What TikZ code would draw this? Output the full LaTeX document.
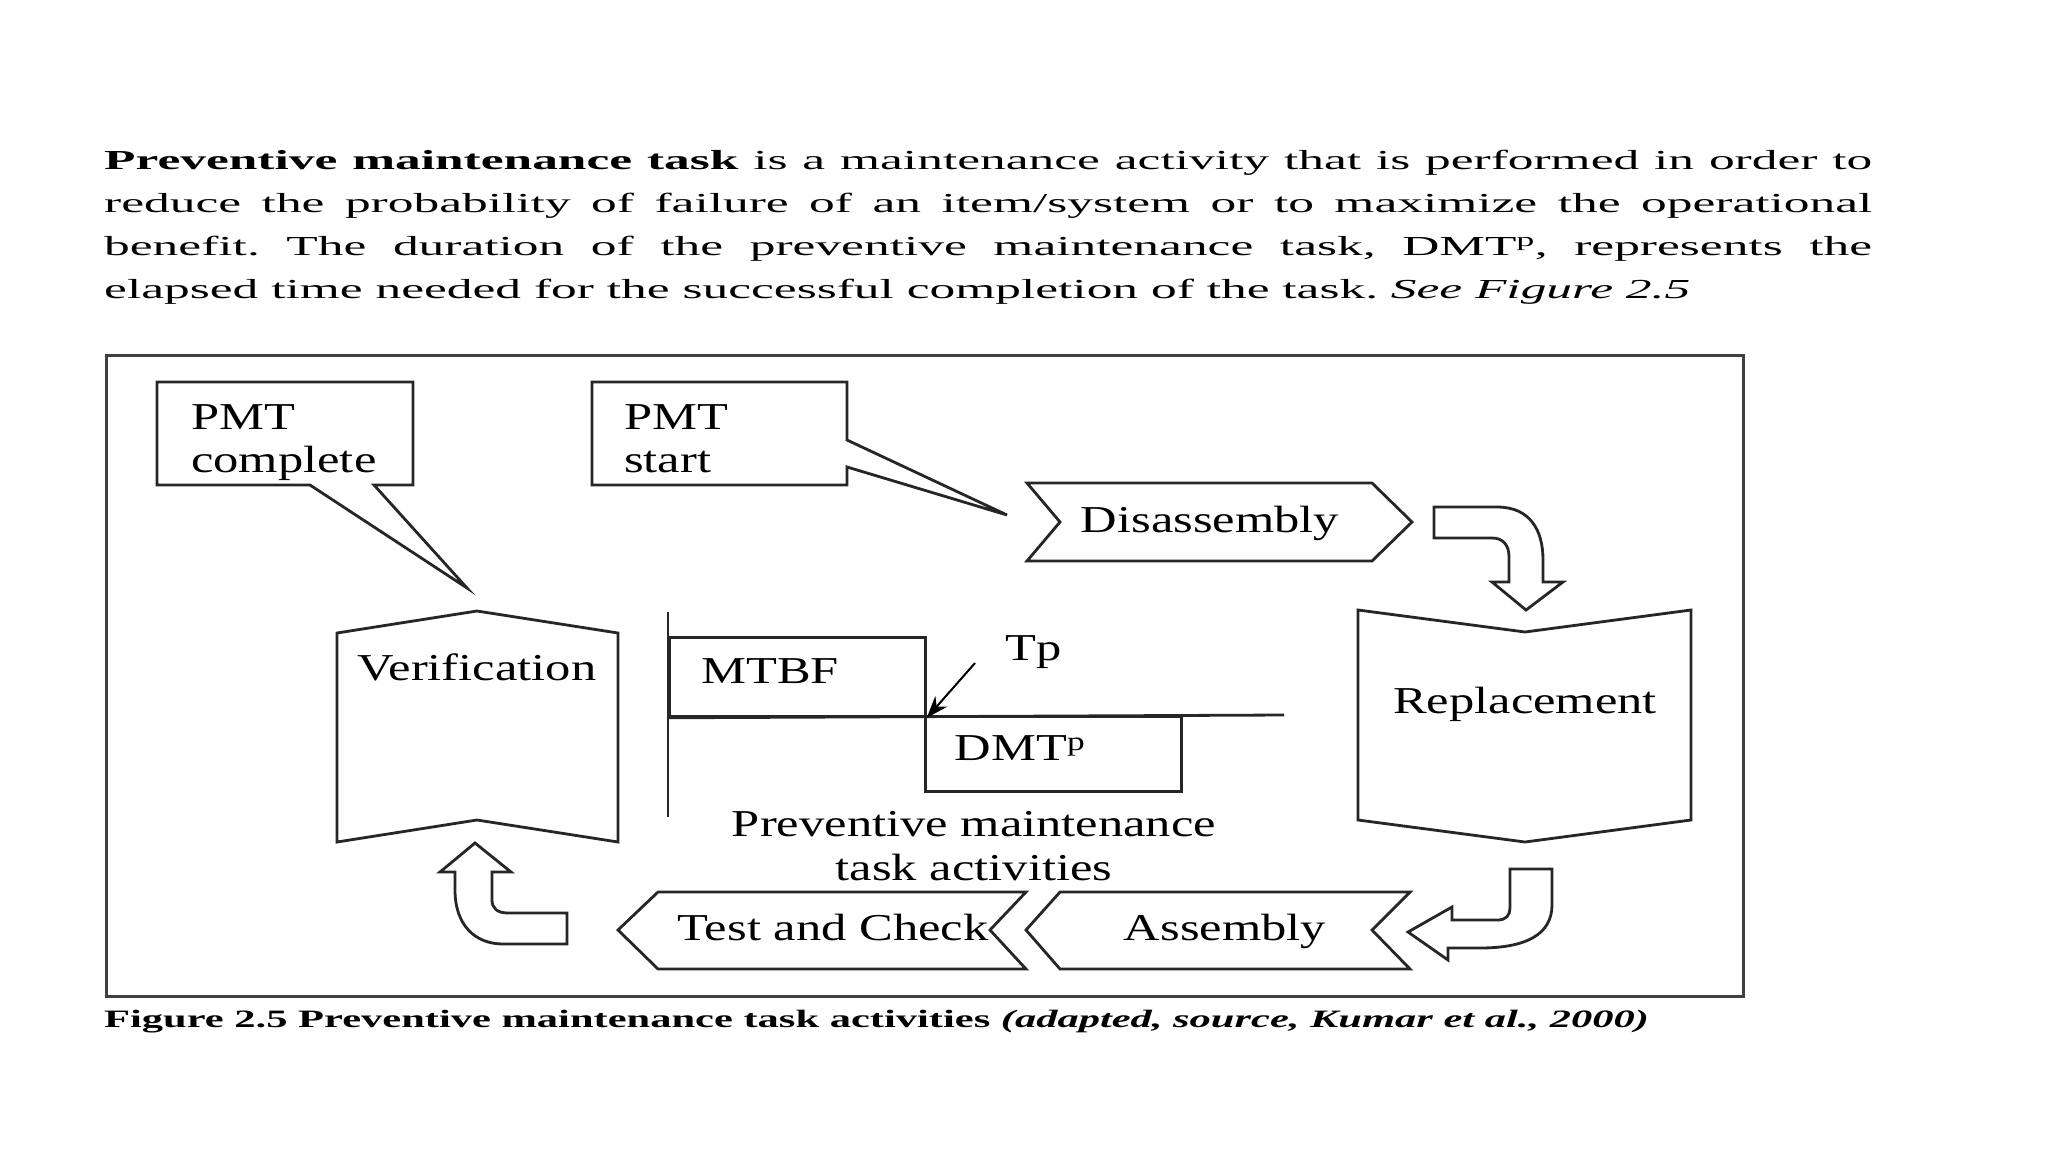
\documentclass[tikz,border=0pt]{standalone}
\usepackage{fontspec}
\setmainfont{Liberation Serif}[FakeStretch=1.33]
\newfontfamily\parafont{Liberation Serif}[FakeStretch=1.87]
\newfontfamily\capfont{Liberation Serif}[FakeStretch=1.70]
\usetikzlibrary{arrows.meta}
\frenchspacing

\tikzset{
  outline/.style={draw=black!85, line width=2.8pt, line join=miter, fill=white},
  figtext/.style={font=\fontsize{38}{43}\selectfont, inner sep=0pt},
  boxnode/.style={draw=black!85, line width=2.8pt, inner sep=0pt, anchor=north west}
}

\begin{document}
\begin{tikzpicture}[x=1pt, y=-1pt]
    \useasboundingbox[fill=white] (0,0) rectangle (2048,1152);
    %\draw[step=100, gray, very thin] (0,0) grid (2048,1152);
    \node[anchor=north west, text width=1768pt, align=justify, inner sep=0pt,
          font=\parafont\fontsize{27.5}{43}\selectfont] (para) at (104,150)
      {\textbf{Preventive maintenance task} is a maintenance activity that is performed in order to\linebreak
       reduce the probability of failure of an item/system or to maximize the operational\linebreak
       benefit. The duration of the preventive maintenance task, DMT\textsuperscript{p}, represents the\linebreak
       elapsed time needed for the successful completion of the task. \textit{See Figure 2.5}};

    \node[draw=black!75, line width=3pt, anchor=north west, inner sep=0pt,
          minimum width=1637pt, minimum height=641pt] (frame) at (105,354) {};

    \begin{scope}[outline]
    % callouts
    \draw (157,382) -- (413,382) -- (413,485) -- (374,485) -- (467,588) -- (310,485) -- (157,485) -- cycle;
    \draw (592,382) -- (847,382) -- (847,440) -- (1007,515) -- (847,467) -- (847,485) -- (592,485) -- cycle;
    % chevrons
    \draw (1027,483) -- (1372,483) -- (1412,522) -- (1372,561) -- (1027,561) -- (1060,522) -- cycle;
    \draw (618,930) -- (658,892) -- (1026,892) -- (990,930) -- (1026,969) -- (658,969) -- cycle;
    \draw (1026,930) -- (1060,892) -- (1410,892) -- (1372,930) -- (1410,969) -- (1060,969) -- cycle;
    % banners
    \draw (337,633) -- (477,611) -- (618,633) -- (618,842) -- (477,820) -- (337,842) -- cycle;
    \draw (1358,610) -- (1525,632) -- (1691,610) -- (1691,820) -- (1525,842) -- (1358,820) -- cycle;
    % curved block arrows
    \draw (1434,507) -- (1497,507) .. controls (1530,507) and (1543,530) .. (1543,560) -- (1543,582)
        -- (1563,582) -- (1526,610) -- (1492,582) -- (1509,582) -- (1509,557)
        .. controls (1509,545) and (1503,538) .. (1492,538) -- (1434,538) -- cycle;
    \draw (1510,869) -- (1552,869) -- (1552,905) .. controls (1552,935) and (1525,948) .. (1480,948)
        -- (1448,948) -- (1448,960) -- (1408,932) -- (1452,907) -- (1452,920) -- (1498,920)
        .. controls (1506,920) and (1510,915) .. (1510,908) -- cycle;
    \draw (567,913) -- (508,913) .. controls (497,913) and (492,908) .. (492,900) -- (492,872)
        -- (511,872) -- (475,843) -- (440,872) -- (455,872) -- (455,890)
        .. controls (455,925) and (475,944) .. (503,944) -- (567,944) -- cycle;
    \end{scope}

    \node[figtext, anchor=base west, align=left] (pmtend) at (191,472) {PMT\\complete};
    \node[figtext, anchor=base west, align=left] (pmtstart) at (624,472) {PMT\\start};
    \node[figtext, anchor=base] (disasm) at (1210,532) {Disassembly};
    \node[figtext, anchor=base] (replace) at (1525,713) {Replacement};
    \node[figtext, anchor=base] (verify) at (477,680) {Verification};
    \node[figtext, anchor=base] (testchk) at (833,940) {Test and Check};
    \node[figtext, anchor=base] (asm) at (1225,940) {Assembly};

    % time line
    \coordinate (axtop) at (668,612);
    \coordinate (axbot) at (668,817);
    \coordinate (axend) at (1284,715);
    \node[boxnode, minimum width=256pt, minimum height=79pt] (mtbfbox) at (668,636) {};
    \node[boxnode, minimum width=256pt, minimum height=75pt] (dmtbox) at (924,715) {};
    \begin{scope}[line width=2.8pt, draw=black!85]
    \draw (axtop) -- (axbot);
    \draw (mtbfbox.south west) -- (axend);
    \end{scope}
    \node[figtext, anchor=base] (mtbf) at (770,683) {MTBF};
    \node[figtext, anchor=base] (dmt) at (1020,760) {DMT\textsuperscript{p}};
    \node[figtext, anchor=base] (tp) at (1034,660) {Tp};
    \coordinate (tptail) at (975,663);
    \draw[line width=2pt, -{Stealth[length=22pt, width=16pt]}] (tptail) -- (mtbfbox.south east);
    \node[figtext, font=\fontsize{38}{44}\selectfont, align=center, anchor=base] (pmlabel) at (974,880)
      {Preventive maintenance\\task activities};

    \node[anchor=base west, inner sep=0pt, font=\capfont\fontsize{25}{30}\selectfont\bfseries] (caption) at (104,1027)
      {Figure 2.5 Preventive maintenance task activities \textit{(adapted, source, Kumar et al., 2000)}};
\end{tikzpicture}
\end{document}
